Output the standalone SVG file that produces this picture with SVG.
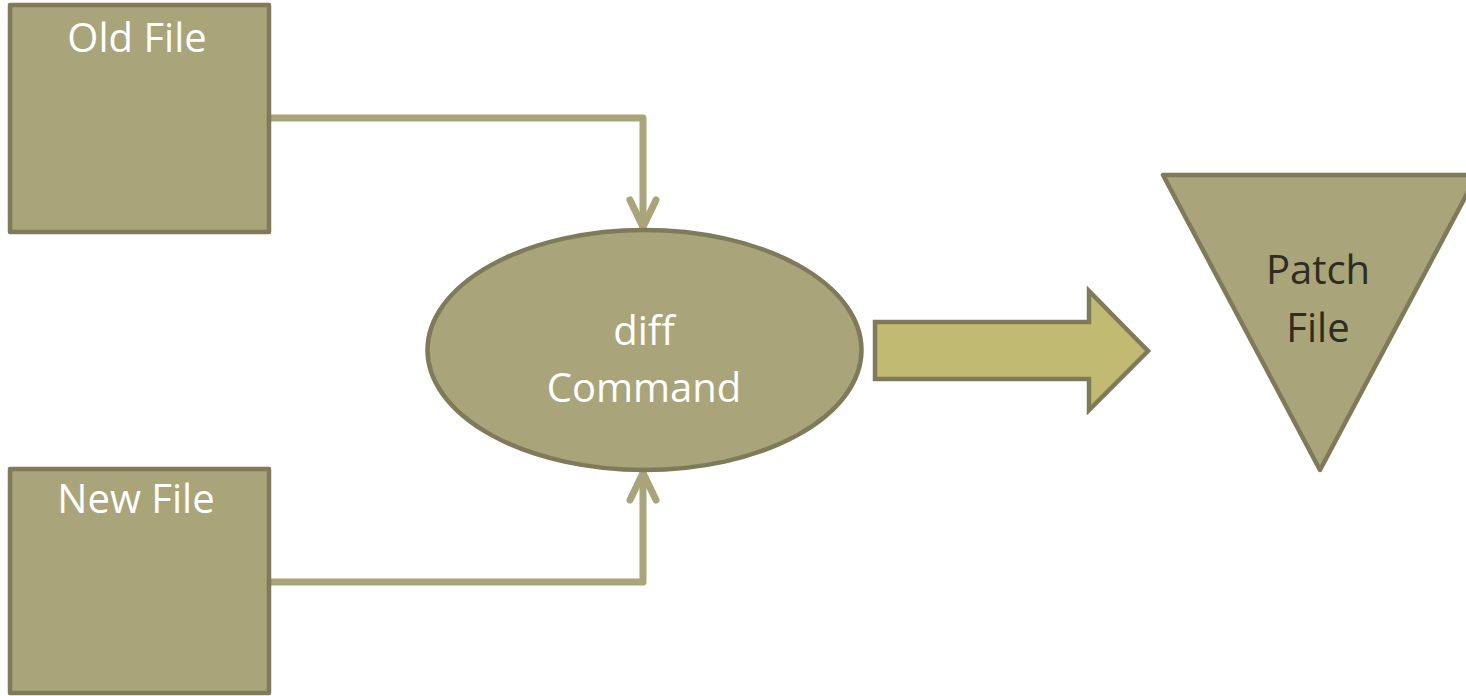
<svg xmlns="http://www.w3.org/2000/svg" width="1466" height="696" viewBox="0 0 1466 696">
  <style>
    .shape { fill: #a9a479; stroke: #7f7b5a; stroke-width: 4.5; stroke-linejoin: round; }
    .block { fill: #c0ba72; stroke: #7f7b5a; stroke-width: 4.5; stroke-linejoin: miter; }
    .label { font-family: "Open Sans", "Liberation Sans", sans-serif; font-size: 40px; text-anchor: middle; }
    .light { fill: #ffffff; }
    .dark { fill: #2f2c20; }
    .link { fill: none; stroke: #a9a479; stroke-width: 7; stroke-linejoin: round; stroke-linecap: round; }
  </style>
  <rect width="1466" height="696" fill="#ffffff"/>

  <!-- connectors: elbow lines into the ellipse plus the block arrow out -->
  <g id="connectors">
    <path class="link" d="M269 118 H643 V227"/>
    <path class="link" d="M630 200 L643 227 L656 200"/>
    <path class="link" d="M269 582 H643 V473"/>
    <path class="link" d="M630 500 L643 473 L656 500"/>
    <path class="block" d="M875 322 H1089 V291 L1148 351 L1089 410 V379 H875 Z"/>
  </g>

  <g id="old-file">
    <rect class="shape" x="10" y="5" width="259" height="227"/>
    <text class="label light" x="137" y="52">Old File</text>
  </g>

  <g id="new-file">
    <rect class="shape" x="10" y="469" width="259" height="224"/>
    <text class="label light" x="136" y="513">New File</text>
  </g>

  <g id="diff-command">
    <ellipse class="shape" cx="644.5" cy="350" rx="217" ry="120"/>
    <text class="label light" x="644" y="345">diff</text>
    <text class="label light" x="644" y="402">Command</text>
  </g>

  <g id="patch-file">
    <polygon class="shape" points="1163,175 1477,175 1320,470"/>
    <text class="label dark" x="1318" y="284">Patch</text>
    <text class="label dark" x="1318" y="342">File</text>
  </g>
</svg>
